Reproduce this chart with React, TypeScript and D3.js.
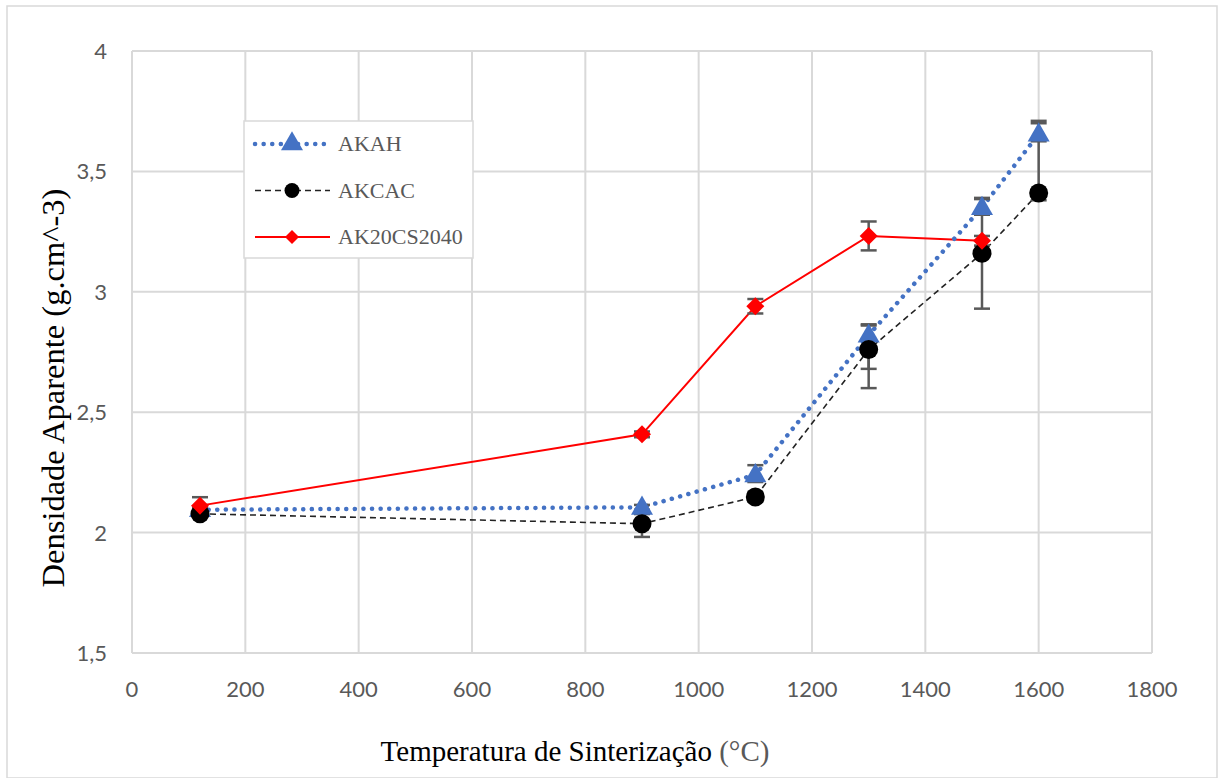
import React, { useEffect, useRef } from "react";
import * as d3 from "d3";

// temperatures (°C)
const temps = [120, 900, 1100, 1300, 1500, 1600];

const akah = [2.095, 2.105, 2.24, 2.82, 3.35, 3.655];
const akahUp = [0.01, 0.01, 0.04, 0.045, 0.035, 0.055];
const akahDown = [0.01, 0.01, 0.03, 0.14, 0.03, 0.03];

const akcac = [2.078, 2.037, 2.148, 2.76, 3.16, 3.41];
const akcacUp = [0.01, 0.04, 0.02, 0.1, 0.23, 0.29];
const akcacDown = [0.01, 0.055, 0.02, 0.16, 0.23, 0.03];

const akcsTemps = [120, 900, 1100, 1300, 1500];
const akcs = [2.112, 2.408, 2.94, 3.232, 3.212];
const akcsErr = [0.035, 0.012, 0.03, 0.06, 0.02];

const xTicks = [0, 200, 400, 600, 800, 1000, 1200, 1400, 1600, 1800];
const yTicks = [1.5, 2, 2.5, 3, 3.5, 4];

const W = 1219;
const H = 778;

const App = () => {
  const ref = useRef(null);

  useEffect(() => {
    const svg = d3.select(ref.current);
    svg.selectAll("*").remove();

    const x = d3.scaleLinear().domain([0, 1800]).range([132, 1152]);
    const y = d3.scaleLinear().domain([1.5, 4]).range([653, 51]);
    const grid = "#d9d9d9";
    const txt = "#595959";

    // outer frame
    svg.append("rect").attr("x", 7).attr("y", 6).attr("width", 1210).attr("height", 772)
      .attr("fill", "white").attr("stroke", grid).attr("stroke-width", 1.5);

    // gridlines
    svg.append("g").selectAll("line").data(yTicks).join("line")
      .attr("x1", x(0)).attr("x2", x(1800))
      .attr("y1", (d) => y(d)).attr("y2", (d) => y(d))
      .attr("stroke", grid).attr("stroke-width", 2);
    svg.append("g").selectAll("line").data(xTicks).join("line")
      .attr("x1", (d) => x(d)).attr("x2", (d) => x(d))
      .attr("y1", y(1.5)).attr("y2", y(4))
      .attr("stroke", grid).attr("stroke-width", 2);

    // tick labels
    svg.append("g").selectAll("text").data(yTicks).join("text")
      .attr("x", 107).attr("y", (d) => y(d) + 8)
      .attr("text-anchor", "end").attr("fill", txt)
      .style("font-family", "Lato, 'Open Sans', sans-serif").style("font-size", "22px")
      .text((d) => String(d).replace(".", ","));
    svg.append("g").selectAll("text").data(xTicks).join("text")
      .attr("x", (d) => x(d)).attr("y", 697)
      .attr("text-anchor", "middle").attr("fill", txt)
      .style("font-family", "Lato, 'Open Sans', sans-serif").style("font-size", "22px")
      .text((d) => d);

    // axis titles
    const xt = svg.append("text").attr("x", 575).attr("y", 761).attr("text-anchor", "middle")
      .style("font-family", "'Liberation Serif', serif").style("font-size", "29px").attr("fill", "black");
    xt.append("tspan").text("Temperatura de Sinterização ");
    xt.append("tspan").attr("fill", txt).text("(°C)");

    svg.append("text").attr("transform", "translate(64,388) rotate(-90)")
      .attr("text-anchor", "middle").attr("fill", "black")
      .style("font-family", "'Liberation Serif', serif").style("font-size", "32.5px")
      .text("Densidade Aparente (g.cm^-3)");

    const pts = (xs, vs) => xs.map((t, i) => [x(t), y(vs[i])]);
    const line = d3.line();

    // error bars
    const errBars = (xs, vs, up, down) => {
      const g = svg.append("g").attr("stroke", txt).attr("stroke-width", 2.5);
      xs.forEach((t, i) => {
        const cx = x(t);
        const top = y(vs[i] + up[i]);
        const bot = y(vs[i] - down[i]);
        g.append("line").attr("x1", cx).attr("x2", cx).attr("y1", top).attr("y2", bot);
        g.append("line").attr("x1", cx - 8).attr("x2", cx + 8).attr("y1", top).attr("y2", top);
        g.append("line").attr("x1", cx - 8).attr("x2", cx + 8).attr("y1", bot).attr("y2", bot);
      });
    };

    // series lines
    svg.append("path").attr("d", line(pts(akcsTemps, akcs)))
      .attr("fill", "none").attr("stroke", "#ff0000").attr("stroke-width", 2);
    svg.append("path").attr("d", line(pts(temps, akcac)))
      .attr("fill", "none").attr("stroke", "#222").attr("stroke-width", 1.6)
      .attr("stroke-dasharray", "6 4");
    svg.append("path").attr("d", line(pts(temps, akah)))
      .attr("fill", "none").attr("stroke", "#4472c4").attr("stroke-width", 4.5)
      .attr("stroke-linecap", "round").attr("stroke-dasharray", "0.1 8.5");

    errBars(temps, akah, akahUp, akahDown);
    errBars(temps, akcac, akcacUp, akcacDown);
    errBars(akcsTemps, akcs, akcsErr, akcsErr);

    const tri = d3.symbol().type(d3.symbolTriangle).size(210);
    const dia = (cx, cy, r) => `M${cx},${cy - r}L${cx + r},${cy}L${cx},${cy + r}L${cx - r},${cy}Z`;

    // markers
    svg.append("g").selectAll("path").data(pts(temps, akah)).join("path")
      .attr("d", tri).attr("transform", (d) => `translate(${d[0]},${d[1] + 1})`)
      .attr("fill", "#4472c4");
    svg.append("g").selectAll("circle").data(pts(temps, akcac)).join("circle")
      .attr("cx", (d) => d[0]).attr("cy", (d) => d[1]).attr("r", 9.5).attr("fill", "black");
    svg.append("g").selectAll("path").data(pts(akcsTemps, akcs)).join("path")
      .attr("d", (d) => dia(d[0], d[1], 9)).attr("fill", "#ff0000");

    // legend
    const lg = svg.append("g");
    lg.append("rect").attr("x", 244).attr("y", 121).attr("width", 229).attr("height", 137)
      .attr("fill", "white").attr("stroke", grid).attr("stroke-width", 1.5);
    const items = [
      { name: "AKAH", color: "#4472c4", w: 4.5, dash: "0.1 8.5", cap: "round", m: "tri" },
      { name: "AKCAC", color: "#222", w: 1.6, dash: "6 4", cap: "butt", m: "circ" },
      { name: "AK20CS2040", color: "#ff0000", w: 2, dash: null, cap: "butt", m: "dia" },
    ];
    items.forEach((it, i) => {
      const yy = 144 + i * 46.5;
      lg.append("line").attr("x1", 255).attr("x2", 330).attr("y1", yy).attr("y2", yy)
        .attr("stroke", it.color).attr("stroke-width", it.w)
        .attr("stroke-dasharray", it.dash).attr("stroke-linecap", it.cap);
      if (it.m === "tri") lg.append("path").attr("d", tri).attr("transform", `translate(292,${yy})`).attr("fill", it.color);
      if (it.m === "circ") lg.append("circle").attr("cx", 292).attr("cy", yy).attr("r", 7.5).attr("fill", "black");
      if (it.m === "dia") lg.append("path").attr("d", dia(292, yy, 7)).attr("fill", it.color);
      lg.append("text").attr("x", 338).attr("y", yy + 7).attr("fill", txt)
        .style("font-family", "'Liberation Serif', serif").style("font-size", "22px")
        .text(it.name);
    });
  });

  return (
    <div style={{ position: "absolute", left: 0, top: 0 }}>
      <svg ref={ref} width={W} height={H} style={{ display: "block" }}></svg>
    </div>
  );
};

export default App;
